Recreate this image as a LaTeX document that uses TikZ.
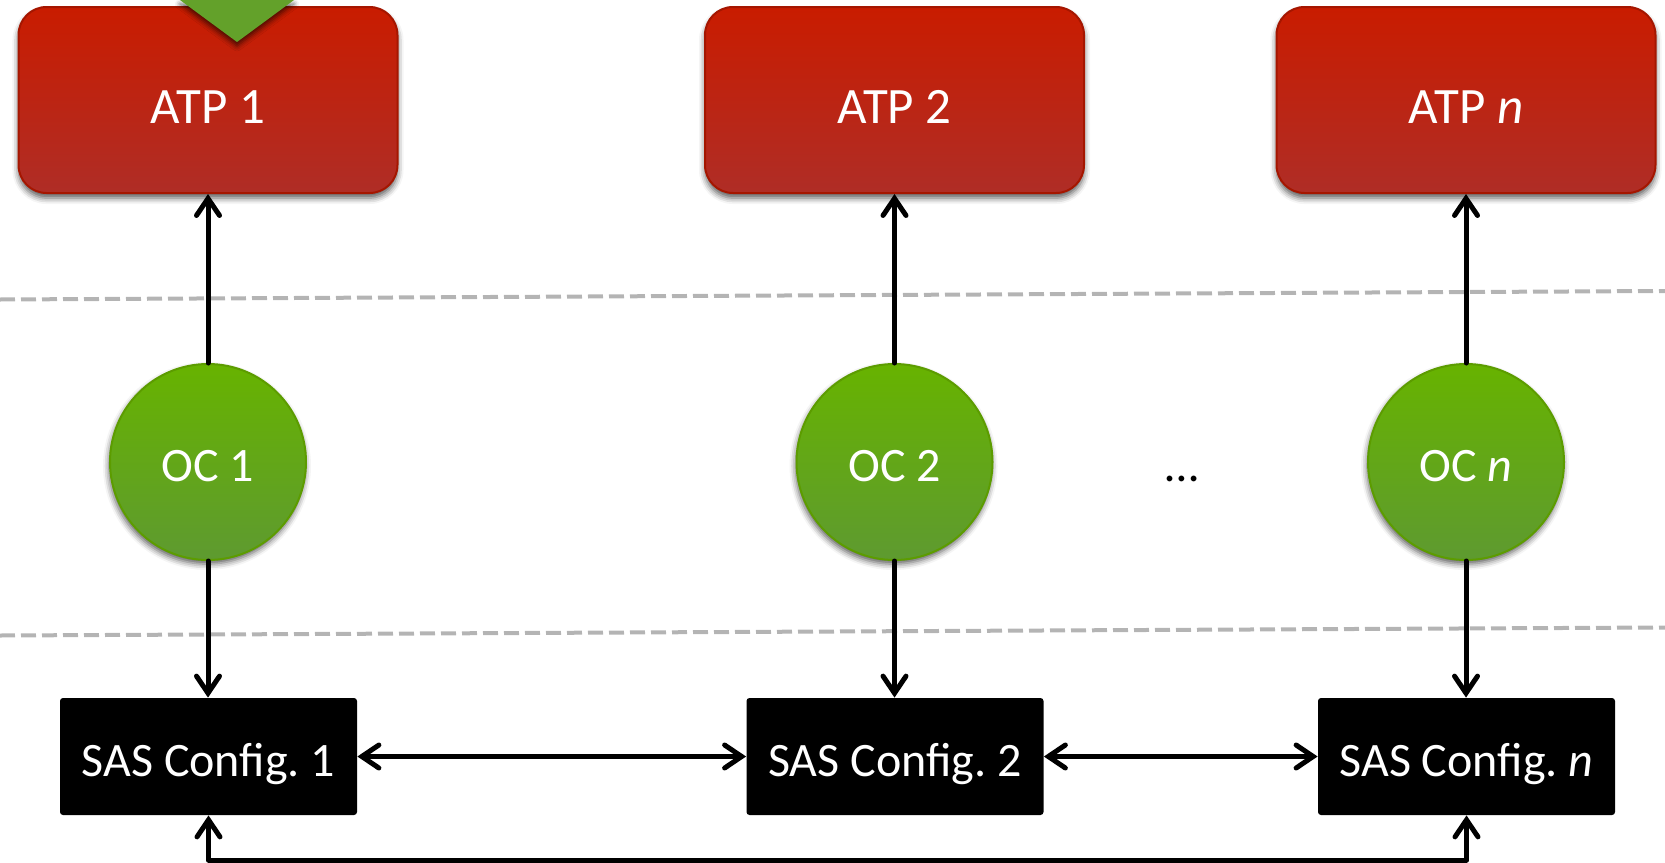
\documentclass[tikz,border=0pt]{standalone}
\usepackage{fontspec}
\setmainfont{Carlito}
\usetikzlibrary{arrows.meta,shadows.blur}
\frenchspacing

\definecolor{atpTop}{HTML}{C91C00}
\definecolor{atpBot}{HTML}{AF2D26}
\definecolor{atpLine}{HTML}{A51600}
\definecolor{ocTop}{HTML}{67B300}
\definecolor{ocBot}{HTML}{5E9A30}
\definecolor{ocLine}{HTML}{5C9C00}
\definecolor{markGreen}{HTML}{63A12A}
\definecolor{sepGray}{HTML}{B4B4B4}

\tikzset{
  lbl/.style={font=\fontsize{24}{27}\selectfont, text=white, text height=19.5pt, text depth=0pt},
  atpbox/.style={lbl, font=\fontsize{25.5}{28}\selectfont, text height=23pt, rectangle, rounded corners=14pt,
    minimum width=189.5pt, minimum height=93pt,
    top color=atpTop, bottom color=atpBot, draw=atpLine, line width=1pt,
    blur shadow={shadow xshift=0pt, shadow yshift=-2.5pt, shadow blur radius=3pt, shadow opacity=65}},
  ocnode/.style={lbl, circle, minimum size=98pt, inner sep=0pt,
    top color=ocTop, bottom color=ocBot, draw=ocLine, line width=1pt,
    blur shadow={shadow xshift=-0.5pt, shadow yshift=-2pt, shadow blur radius=3pt, shadow opacity=65}},
  sasbox/.style={lbl, rectangle, rounded corners=1.5pt,
    minimum width=148.5pt, minimum height=58.5pt, fill=black},
  conn/.style={line width=2.5pt, line cap=round, line join=round,
    arrows={-}, >={Straight Barb[length=8.5pt, width=11.5pt, line cap=round]}},
  sep/.style={draw=sepGray, line width=2pt, dash pattern=on 7.5pt off 3pt},
}

\begin{document}
\begin{tikzpicture}[x=0.5pt, y=-0.5pt]
  \useasboundingbox (0,0) rectangle (1665,862);

  % layer separators
  \draw[sep] (0,299.5) -- (1665,291);
  \draw[sep] (0,635.5) -- (1665,627.5);

  % ATP boxes
  \node[atpbox] (atp1) at (208,100) {ATP 1};
  \node[atpbox] (atp2) at (894.5,100) {ATP 2};
  \node[atpbox] (atpn) at (1466,100) {ATP \textit{n}};

  % marker pointing at the first ATP
  \fill[markGreen, blur shadow={shadow xshift=0pt, shadow yshift=-2pt, shadow blur radius=2.5pt, shadow opacity=65}]
    (180,0) -- (237,42) -- (294,0) -- cycle;

  % OC circles
  \node[ocnode] (oc1) at (208,462) {OC 1};
  \node[ocnode] (oc2) at (894.5,462) {OC 2};
  \node[ocnode] (ocn) at (1466,462) {OC \textit{n}};
  \node[font=\fontsize{24}{27}\selectfont, anchor=base] (dots) at (1182,481) {\textellipsis};

  % SAS configurations
  \node[sasbox] (sas1) at (208.5,756.5) {SAS Config. 1};
  \node[sasbox] (sas2) at (895,756.5) {SAS Config. 2};
  \node[sasbox] (sasn) at (1466.5,756.5) {SAS Config. \textit{n}};

  % connections
  \draw[conn,->] (oc1) -- (atp1.south -| oc1);
  \draw[conn,->] (oc2) -- (atp2.south -| oc2);
  \draw[conn,->] (ocn) -- (atpn.south -| ocn);

  \draw[conn,->] (oc1) -- (sas1.north -| oc1);
  \draw[conn,->] (oc2) -- (sas2.north -| oc2);
  \draw[conn,->] (ocn) -- (sasn.north -| ocn);

  \draw[conn,<->] (sas1) -- (sas2);
  \draw[conn,<->] (sas2) -- (sasn);

  \coordinate (loopL) at (208.5,860);
  \draw[conn,<->] (sas1.south) -- (loopL) -| (sasn.south);
\end{tikzpicture}
\end{document}
